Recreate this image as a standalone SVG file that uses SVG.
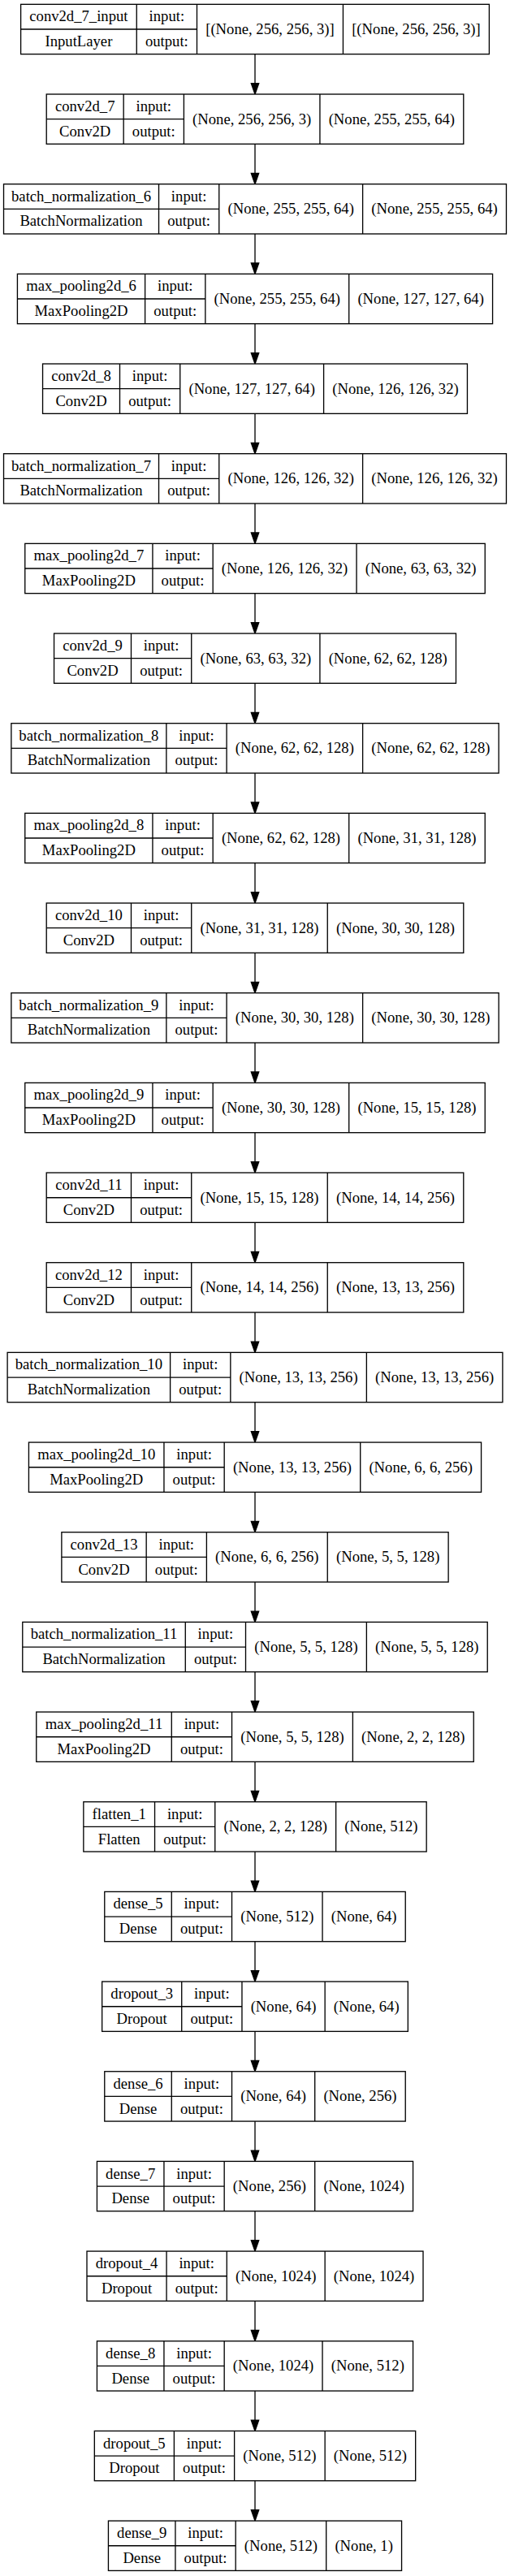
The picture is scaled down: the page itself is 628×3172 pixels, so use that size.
<svg xmlns="http://www.w3.org/2000/svg" width="628" height="3172" viewBox="0 0 628 3172">
<style>
.b{fill:#fff;stroke:#000;stroke-width:1.33}
.d{fill:none;stroke:#000;stroke-width:1.33}
.t{font-family:"Liberation Serif","Times New Roman",serif;font-size:18.67px;text-anchor:middle;fill:#000}
.e{stroke:#000;stroke-width:1.33;fill:none}
</style>
<defs>
<marker id="ah" viewBox="0 0 10 7" refX="0" refY="3.5" markerUnits="userSpaceOnUse" markerWidth="13.33" markerHeight="9.33" orient="auto" overflow="visible">
<path d="M0,0 L10,3.5 L0,7 z" fill="#000" stroke="#000" stroke-width="1"/>
</marker>
</defs>
<rect width="628" height="3172" fill="#fff"/>
<g id="edges">
<line class="e" marker-end="url(#ah)" x1="314" y1="66.66" x2="314" y2="102.67"/>
<line class="e" marker-end="url(#ah)" x1="314" y1="177.33" x2="314" y2="213.34"/>
<line class="e" marker-end="url(#ah)" x1="314" y1="288.00" x2="314" y2="324.01"/>
<line class="e" marker-end="url(#ah)" x1="314" y1="398.67" x2="314" y2="434.68"/>
<line class="e" marker-end="url(#ah)" x1="314" y1="509.34" x2="314" y2="545.35"/>
<line class="e" marker-end="url(#ah)" x1="314" y1="620.01" x2="314" y2="656.02"/>
<line class="e" marker-end="url(#ah)" x1="314" y1="730.68" x2="314" y2="766.69"/>
<line class="e" marker-end="url(#ah)" x1="314" y1="841.35" x2="314" y2="877.36"/>
<line class="e" marker-end="url(#ah)" x1="314" y1="952.02" x2="314" y2="988.03"/>
<line class="e" marker-end="url(#ah)" x1="314" y1="1062.69" x2="314" y2="1098.70"/>
<line class="e" marker-end="url(#ah)" x1="314" y1="1173.36" x2="314" y2="1209.37"/>
<line class="e" marker-end="url(#ah)" x1="314" y1="1284.03" x2="314" y2="1320.04"/>
<line class="e" marker-end="url(#ah)" x1="314" y1="1394.70" x2="314" y2="1430.71"/>
<line class="e" marker-end="url(#ah)" x1="314" y1="1505.37" x2="314" y2="1541.38"/>
<line class="e" marker-end="url(#ah)" x1="314" y1="1616.04" x2="314" y2="1652.05"/>
<line class="e" marker-end="url(#ah)" x1="314" y1="1726.71" x2="314" y2="1762.72"/>
<line class="e" marker-end="url(#ah)" x1="314" y1="1837.38" x2="314" y2="1873.39"/>
<line class="e" marker-end="url(#ah)" x1="314" y1="1948.05" x2="314" y2="1984.06"/>
<line class="e" marker-end="url(#ah)" x1="314" y1="2058.72" x2="314" y2="2094.73"/>
<line class="e" marker-end="url(#ah)" x1="314" y1="2169.39" x2="314" y2="2205.40"/>
<line class="e" marker-end="url(#ah)" x1="314" y1="2280.06" x2="314" y2="2316.07"/>
<line class="e" marker-end="url(#ah)" x1="314" y1="2390.73" x2="314" y2="2426.74"/>
<line class="e" marker-end="url(#ah)" x1="314" y1="2501.40" x2="314" y2="2537.41"/>
<line class="e" marker-end="url(#ah)" x1="314" y1="2612.07" x2="314" y2="2648.08"/>
<line class="e" marker-end="url(#ah)" x1="314" y1="2722.74" x2="314" y2="2758.75"/>
<line class="e" marker-end="url(#ah)" x1="314" y1="2833.41" x2="314" y2="2869.42"/>
<line class="e" marker-end="url(#ah)" x1="314" y1="2944.08" x2="314" y2="2980.09"/>
<line class="e" marker-end="url(#ah)" x1="314" y1="3054.75" x2="314" y2="3090.76"/>
</g>

<g id="n0" transform="translate(25.59,5.33)">
<rect class="b" width="576.82" height="61.33"/>
<path class="d" d="M142.67 0V61.33M216.9 0V61.33M396.86 0V61.33M0 30.67H216.9"/>
<text class="t" x="71.33" y="21.1">conv2d_7_input</text>
<text class="t" x="71.33" y="51.8">InputLayer</text>
<text class="t" x="179.79" y="21.1">input:</text>
<text class="t" x="179.79" y="51.8">output:</text>
<text class="t" x="306.88" y="36.5">[(None, 256, 256, 3)]</text>
<text class="t" x="486.84" y="36.5">[(None, 256, 256, 3)]</text>
</g>

<g id="n1" transform="translate(57.22,116)">
<rect class="b" width="513.57" height="61.33"/>
<path class="d" d="M94.95 0V61.33M169.18 0V61.33M336.71 0V61.33M0 30.67H169.18"/>
<text class="t" x="47.48" y="21.1">conv2d_7</text>
<text class="t" x="47.48" y="51.8">Conv2D</text>
<text class="t" x="132.07" y="21.1">input:</text>
<text class="t" x="132.07" y="51.8">output:</text>
<text class="t" x="252.95" y="36.5">(None, 256, 256, 3)</text>
<text class="t" x="425.14" y="36.5">(None, 255, 255, 64)</text>
</g>

<g id="n2" transform="translate(4.52,226.67)">
<rect class="b" width="618.95" height="61.33"/>
<path class="d" d="M191 0V61.33M265.23 0V61.33M442.09 0V61.33M0 30.67H265.23"/>
<text class="t" x="95.5" y="21.1">batch_normalization_6</text>
<text class="t" x="95.5" y="51.8">BatchNormalization</text>
<text class="t" x="228.12" y="21.1">input:</text>
<text class="t" x="228.12" y="51.8">output:</text>
<text class="t" x="353.66" y="36.5">(None, 255, 255, 64)</text>
<text class="t" x="530.52" y="36.5">(None, 255, 255, 64)</text>
</g>

<g id="n3" transform="translate(21.43,337.34)">
<rect class="b" width="585.14" height="61.33"/>
<path class="d" d="M157.19 0V61.33M231.42 0V61.33M408.28 0V61.33M0 30.67H231.42"/>
<text class="t" x="78.6" y="21.1">max_pooling2d_6</text>
<text class="t" x="78.6" y="51.8">MaxPooling2D</text>
<text class="t" x="194.31" y="21.1">input:</text>
<text class="t" x="194.31" y="51.8">output:</text>
<text class="t" x="319.85" y="36.5">(None, 255, 255, 64)</text>
<text class="t" x="496.71" y="36.5">(None, 127, 127, 64)</text>
</g>

<g id="n4" transform="translate(52.55,448.01)">
<rect class="b" width="522.9" height="61.33"/>
<path class="d" d="M94.95 0V61.33M169.18 0V61.33M346.04 0V61.33M0 30.67H169.18"/>
<text class="t" x="47.48" y="21.1">conv2d_8</text>
<text class="t" x="47.48" y="51.8">Conv2D</text>
<text class="t" x="132.07" y="21.1">input:</text>
<text class="t" x="132.07" y="51.8">output:</text>
<text class="t" x="257.61" y="36.5">(None, 127, 127, 64)</text>
<text class="t" x="434.47" y="36.5">(None, 126, 126, 32)</text>
</g>

<g id="n5" transform="translate(4.52,558.68)">
<rect class="b" width="618.95" height="61.33"/>
<path class="d" d="M191 0V61.33M265.23 0V61.33M442.09 0V61.33M0 30.67H265.23"/>
<text class="t" x="95.5" y="21.1">batch_normalization_7</text>
<text class="t" x="95.5" y="51.8">BatchNormalization</text>
<text class="t" x="228.12" y="21.1">input:</text>
<text class="t" x="228.12" y="51.8">output:</text>
<text class="t" x="353.66" y="36.5">(None, 126, 126, 32)</text>
<text class="t" x="530.52" y="36.5">(None, 126, 126, 32)</text>
</g>

<g id="n6" transform="translate(30.76,669.35)">
<rect class="b" width="566.48" height="61.33"/>
<path class="d" d="M157.19 0V61.33M231.42 0V61.33M408.28 0V61.33M0 30.67H231.42"/>
<text class="t" x="78.6" y="21.1">max_pooling2d_7</text>
<text class="t" x="78.6" y="51.8">MaxPooling2D</text>
<text class="t" x="194.31" y="21.1">input:</text>
<text class="t" x="194.31" y="51.8">output:</text>
<text class="t" x="319.85" y="36.5">(None, 126, 126, 32)</text>
<text class="t" x="487.38" y="36.5">(None, 63, 63, 32)</text>
</g>

<g id="n7" transform="translate(66.55,780.02)">
<rect class="b" width="494.91" height="61.33"/>
<path class="d" d="M94.95 0V61.33M169.18 0V61.33M327.38 0V61.33M0 30.67H169.18"/>
<text class="t" x="47.48" y="21.1">conv2d_9</text>
<text class="t" x="47.48" y="51.8">Conv2D</text>
<text class="t" x="132.07" y="21.1">input:</text>
<text class="t" x="132.07" y="51.8">output:</text>
<text class="t" x="248.28" y="36.5">(None, 63, 63, 32)</text>
<text class="t" x="411.15" y="36.5">(None, 62, 62, 128)</text>
</g>

<g id="n8" transform="translate(13.86,890.69)">
<rect class="b" width="600.29" height="61.33"/>
<path class="d" d="M191 0V61.33M265.23 0V61.33M432.76 0V61.33M0 30.67H265.23"/>
<text class="t" x="95.5" y="21.1">batch_normalization_8</text>
<text class="t" x="95.5" y="51.8">BatchNormalization</text>
<text class="t" x="228.12" y="21.1">input:</text>
<text class="t" x="228.12" y="51.8">output:</text>
<text class="t" x="349" y="36.5">(None, 62, 62, 128)</text>
<text class="t" x="516.53" y="36.5">(None, 62, 62, 128)</text>
</g>

<g id="n9" transform="translate(30.76,1001.36)">
<rect class="b" width="566.48" height="61.33"/>
<path class="d" d="M157.19 0V61.33M231.42 0V61.33M398.95 0V61.33M0 30.67H231.42"/>
<text class="t" x="78.6" y="21.1">max_pooling2d_8</text>
<text class="t" x="78.6" y="51.8">MaxPooling2D</text>
<text class="t" x="194.31" y="21.1">input:</text>
<text class="t" x="194.31" y="51.8">output:</text>
<text class="t" x="315.19" y="36.5">(None, 62, 62, 128)</text>
<text class="t" x="482.72" y="36.5">(None, 31, 31, 128)</text>
</g>

<g id="n10" transform="translate(57.21,1112.03)">
<rect class="b" width="513.58" height="61.33"/>
<path class="d" d="M104.29 0V61.33M178.52 0V61.33M346.05 0V61.33M0 30.67H178.52"/>
<text class="t" x="52.15" y="21.1">conv2d_10</text>
<text class="t" x="52.15" y="51.8">Conv2D</text>
<text class="t" x="141.41" y="21.1">input:</text>
<text class="t" x="141.41" y="51.8">output:</text>
<text class="t" x="262.29" y="36.5">(None, 31, 31, 128)</text>
<text class="t" x="429.82" y="36.5">(None, 30, 30, 128)</text>
</g>

<g id="n11" transform="translate(13.86,1222.7)">
<rect class="b" width="600.29" height="61.33"/>
<path class="d" d="M191 0V61.33M265.23 0V61.33M432.76 0V61.33M0 30.67H265.23"/>
<text class="t" x="95.5" y="21.1">batch_normalization_9</text>
<text class="t" x="95.5" y="51.8">BatchNormalization</text>
<text class="t" x="228.12" y="21.1">input:</text>
<text class="t" x="228.12" y="51.8">output:</text>
<text class="t" x="349" y="36.5">(None, 30, 30, 128)</text>
<text class="t" x="516.53" y="36.5">(None, 30, 30, 128)</text>
</g>

<g id="n12" transform="translate(30.76,1333.37)">
<rect class="b" width="566.48" height="61.33"/>
<path class="d" d="M157.19 0V61.33M231.42 0V61.33M398.95 0V61.33M0 30.67H231.42"/>
<text class="t" x="78.6" y="21.1">max_pooling2d_9</text>
<text class="t" x="78.6" y="51.8">MaxPooling2D</text>
<text class="t" x="194.31" y="21.1">input:</text>
<text class="t" x="194.31" y="51.8">output:</text>
<text class="t" x="315.19" y="36.5">(None, 30, 30, 128)</text>
<text class="t" x="482.72" y="36.5">(None, 15, 15, 128)</text>
</g>

<g id="n13" transform="translate(57.21,1444.04)">
<rect class="b" width="513.58" height="61.33"/>
<path class="d" d="M104.29 0V61.33M178.52 0V61.33M346.05 0V61.33M0 30.67H178.52"/>
<text class="t" x="52.15" y="21.1">conv2d_11</text>
<text class="t" x="52.15" y="51.8">Conv2D</text>
<text class="t" x="141.41" y="21.1">input:</text>
<text class="t" x="141.41" y="51.8">output:</text>
<text class="t" x="262.29" y="36.5">(None, 15, 15, 128)</text>
<text class="t" x="429.82" y="36.5">(None, 14, 14, 256)</text>
</g>

<g id="n14" transform="translate(57.21,1554.71)">
<rect class="b" width="513.58" height="61.33"/>
<path class="d" d="M104.29 0V61.33M178.52 0V61.33M346.05 0V61.33M0 30.67H178.52"/>
<text class="t" x="52.15" y="21.1">conv2d_12</text>
<text class="t" x="52.15" y="51.8">Conv2D</text>
<text class="t" x="141.41" y="21.1">input:</text>
<text class="t" x="141.41" y="51.8">output:</text>
<text class="t" x="262.29" y="36.5">(None, 14, 14, 256)</text>
<text class="t" x="429.82" y="36.5">(None, 13, 13, 256)</text>
</g>

<g id="n15" transform="translate(9.11,1665.38)">
<rect class="b" width="609.79" height="61.33"/>
<path class="d" d="M200.5 0V61.33M274.73 0V61.33M442.26 0V61.33M0 30.67H274.73"/>
<text class="t" x="100.25" y="21.1">batch_normalization_10</text>
<text class="t" x="100.25" y="51.8">BatchNormalization</text>
<text class="t" x="237.62" y="21.1">input:</text>
<text class="t" x="237.62" y="51.8">output:</text>
<text class="t" x="358.5" y="36.5">(None, 13, 13, 256)</text>
<text class="t" x="526.03" y="36.5">(None, 13, 13, 256)</text>
</g>

<g id="n16" transform="translate(35.43,1776.05)">
<rect class="b" width="557.14" height="61.33"/>
<path class="d" d="M166.52 0V61.33M240.75 0V61.33M408.28 0V61.33M0 30.67H240.75"/>
<text class="t" x="83.26" y="21.1">max_pooling2d_10</text>
<text class="t" x="83.26" y="51.8">MaxPooling2D</text>
<text class="t" x="203.64" y="21.1">input:</text>
<text class="t" x="203.64" y="51.8">output:</text>
<text class="t" x="324.52" y="36.5">(None, 13, 13, 256)</text>
<text class="t" x="482.71" y="36.5">(None, 6, 6, 256)</text>
</g>

<g id="n17" transform="translate(75.88,1886.72)">
<rect class="b" width="476.24" height="61.33"/>
<path class="d" d="M104.29 0V61.33M178.52 0V61.33M327.38 0V61.33M0 30.67H178.52"/>
<text class="t" x="52.15" y="21.1">conv2d_13</text>
<text class="t" x="52.15" y="51.8">Conv2D</text>
<text class="t" x="141.41" y="21.1">input:</text>
<text class="t" x="141.41" y="51.8">output:</text>
<text class="t" x="252.95" y="36.5">(None, 6, 6, 256)</text>
<text class="t" x="401.81" y="36.5">(None, 5, 5, 128)</text>
</g>

<g id="n18" transform="translate(27.78,1997.39)">
<rect class="b" width="572.45" height="61.33"/>
<path class="d" d="M200.5 0V61.33M274.73 0V61.33M423.59 0V61.33M0 30.67H274.73"/>
<text class="t" x="100.25" y="21.1">batch_normalization_11</text>
<text class="t" x="100.25" y="51.8">BatchNormalization</text>
<text class="t" x="237.62" y="21.1">input:</text>
<text class="t" x="237.62" y="51.8">output:</text>
<text class="t" x="349.16" y="36.5">(None, 5, 5, 128)</text>
<text class="t" x="498.02" y="36.5">(None, 5, 5, 128)</text>
</g>

<g id="n19" transform="translate(44.77,2108.06)">
<rect class="b" width="538.47" height="61.33"/>
<path class="d" d="M166.52 0V61.33M240.75 0V61.33M389.61 0V61.33M0 30.67H240.75"/>
<text class="t" x="83.26" y="21.1">max_pooling2d_11</text>
<text class="t" x="83.26" y="51.8">MaxPooling2D</text>
<text class="t" x="203.64" y="21.1">input:</text>
<text class="t" x="203.64" y="51.8">output:</text>
<text class="t" x="315.18" y="36.5">(None, 5, 5, 128)</text>
<text class="t" x="464.04" y="36.5">(None, 2, 2, 128)</text>
</g>

<g id="n20" transform="translate(102.85,2218.73)">
<rect class="b" width="422.31" height="61.33"/>
<path class="d" d="M87.69 0V61.33M161.92 0V61.33M310.78 0V61.33M0 30.67H161.92"/>
<text class="t" x="43.85" y="21.1">flatten_1</text>
<text class="t" x="43.85" y="51.8">Flatten</text>
<text class="t" x="124.81" y="21.1">input:</text>
<text class="t" x="124.81" y="51.8">output:</text>
<text class="t" x="236.35" y="36.5">(None, 2, 2, 128)</text>
<text class="t" x="366.55" y="36.5">(None, 512)</text>
</g>

<g id="n21" transform="translate(128.78,2329.4)">
<rect class="b" width="370.45" height="61.33"/>
<path class="d" d="M82.5 0V61.33M156.73 0V61.33M268.26 0V61.33M0 30.67H156.73"/>
<text class="t" x="41.25" y="21.1">dense_5</text>
<text class="t" x="41.25" y="51.8">Dense</text>
<text class="t" x="119.62" y="21.1">input:</text>
<text class="t" x="119.62" y="51.8">output:</text>
<text class="t" x="212.5" y="36.5">(None, 512)</text>
<text class="t" x="319.36" y="36.5">(None, 64)</text>
</g>

<g id="n22" transform="translate(125.66,2440.07)">
<rect class="b" width="376.68" height="61.33"/>
<path class="d" d="M98.07 0V61.33M172.3 0V61.33M274.49 0V61.33M0 30.67H172.3"/>
<text class="t" x="49.04" y="21.1">dropout_3</text>
<text class="t" x="49.04" y="51.8">Dropout</text>
<text class="t" x="135.19" y="21.1">input:</text>
<text class="t" x="135.19" y="51.8">output:</text>
<text class="t" x="223.4" y="36.5">(None, 64)</text>
<text class="t" x="325.59" y="36.5">(None, 64)</text>
</g>

<g id="n23" transform="translate(128.78,2550.74)">
<rect class="b" width="370.45" height="61.33"/>
<path class="d" d="M82.5 0V61.33M156.73 0V61.33M258.92 0V61.33M0 30.67H156.73"/>
<text class="t" x="41.25" y="21.1">dense_6</text>
<text class="t" x="41.25" y="51.8">Dense</text>
<text class="t" x="119.62" y="21.1">input:</text>
<text class="t" x="119.62" y="51.8">output:</text>
<text class="t" x="207.83" y="36.5">(None, 64)</text>
<text class="t" x="314.69" y="36.5">(None, 256)</text>
</g>

<g id="n24" transform="translate(119.44,2661.41)">
<rect class="b" width="389.12" height="61.33"/>
<path class="d" d="M82.5 0V61.33M156.73 0V61.33M268.26 0V61.33M0 30.67H156.73"/>
<text class="t" x="41.25" y="21.1">dense_7</text>
<text class="t" x="41.25" y="51.8">Dense</text>
<text class="t" x="119.62" y="21.1">input:</text>
<text class="t" x="119.62" y="51.8">output:</text>
<text class="t" x="212.5" y="36.5">(None, 256)</text>
<text class="t" x="328.69" y="36.5">(None, 1024)</text>
</g>

<g id="n25" transform="translate(106.99,2772.08)">
<rect class="b" width="414.02" height="61.33"/>
<path class="d" d="M98.07 0V61.33M172.3 0V61.33M293.16 0V61.33M0 30.67H172.3"/>
<text class="t" x="49.04" y="21.1">dropout_4</text>
<text class="t" x="49.04" y="51.8">Dropout</text>
<text class="t" x="135.19" y="21.1">input:</text>
<text class="t" x="135.19" y="51.8">output:</text>
<text class="t" x="232.73" y="36.5">(None, 1024)</text>
<text class="t" x="353.59" y="36.5">(None, 1024)</text>
</g>

<g id="n26" transform="translate(119.44,2882.75)">
<rect class="b" width="389.12" height="61.33"/>
<path class="d" d="M82.5 0V61.33M156.73 0V61.33M277.59 0V61.33M0 30.67H156.73"/>
<text class="t" x="41.25" y="21.1">dense_8</text>
<text class="t" x="41.25" y="51.8">Dense</text>
<text class="t" x="119.62" y="21.1">input:</text>
<text class="t" x="119.62" y="51.8">output:</text>
<text class="t" x="217.16" y="36.5">(None, 1024)</text>
<text class="t" x="333.36" y="36.5">(None, 512)</text>
</g>

<g id="n27" transform="translate(116.32,2993.42)">
<rect class="b" width="395.36" height="61.33"/>
<path class="d" d="M98.07 0V61.33M172.3 0V61.33M283.83 0V61.33M0 30.67H172.3"/>
<text class="t" x="49.04" y="21.1">dropout_5</text>
<text class="t" x="49.04" y="51.8">Dropout</text>
<text class="t" x="135.19" y="21.1">input:</text>
<text class="t" x="135.19" y="51.8">output:</text>
<text class="t" x="228.07" y="36.5">(None, 512)</text>
<text class="t" x="339.6" y="36.5">(None, 512)</text>
</g>

<g id="n28" transform="translate(133.44,3104.09)">
<rect class="b" width="361.12" height="61.33"/>
<path class="d" d="M82.5 0V61.33M156.73 0V61.33M268.26 0V61.33M0 30.67H156.73"/>
<text class="t" x="41.25" y="21.1">dense_9</text>
<text class="t" x="41.25" y="51.8">Dense</text>
<text class="t" x="119.62" y="21.1">input:</text>
<text class="t" x="119.62" y="51.8">output:</text>
<text class="t" x="212.5" y="36.5">(None, 512)</text>
<text class="t" x="314.69" y="36.5">(None, 1)</text>
</g>
</svg>
